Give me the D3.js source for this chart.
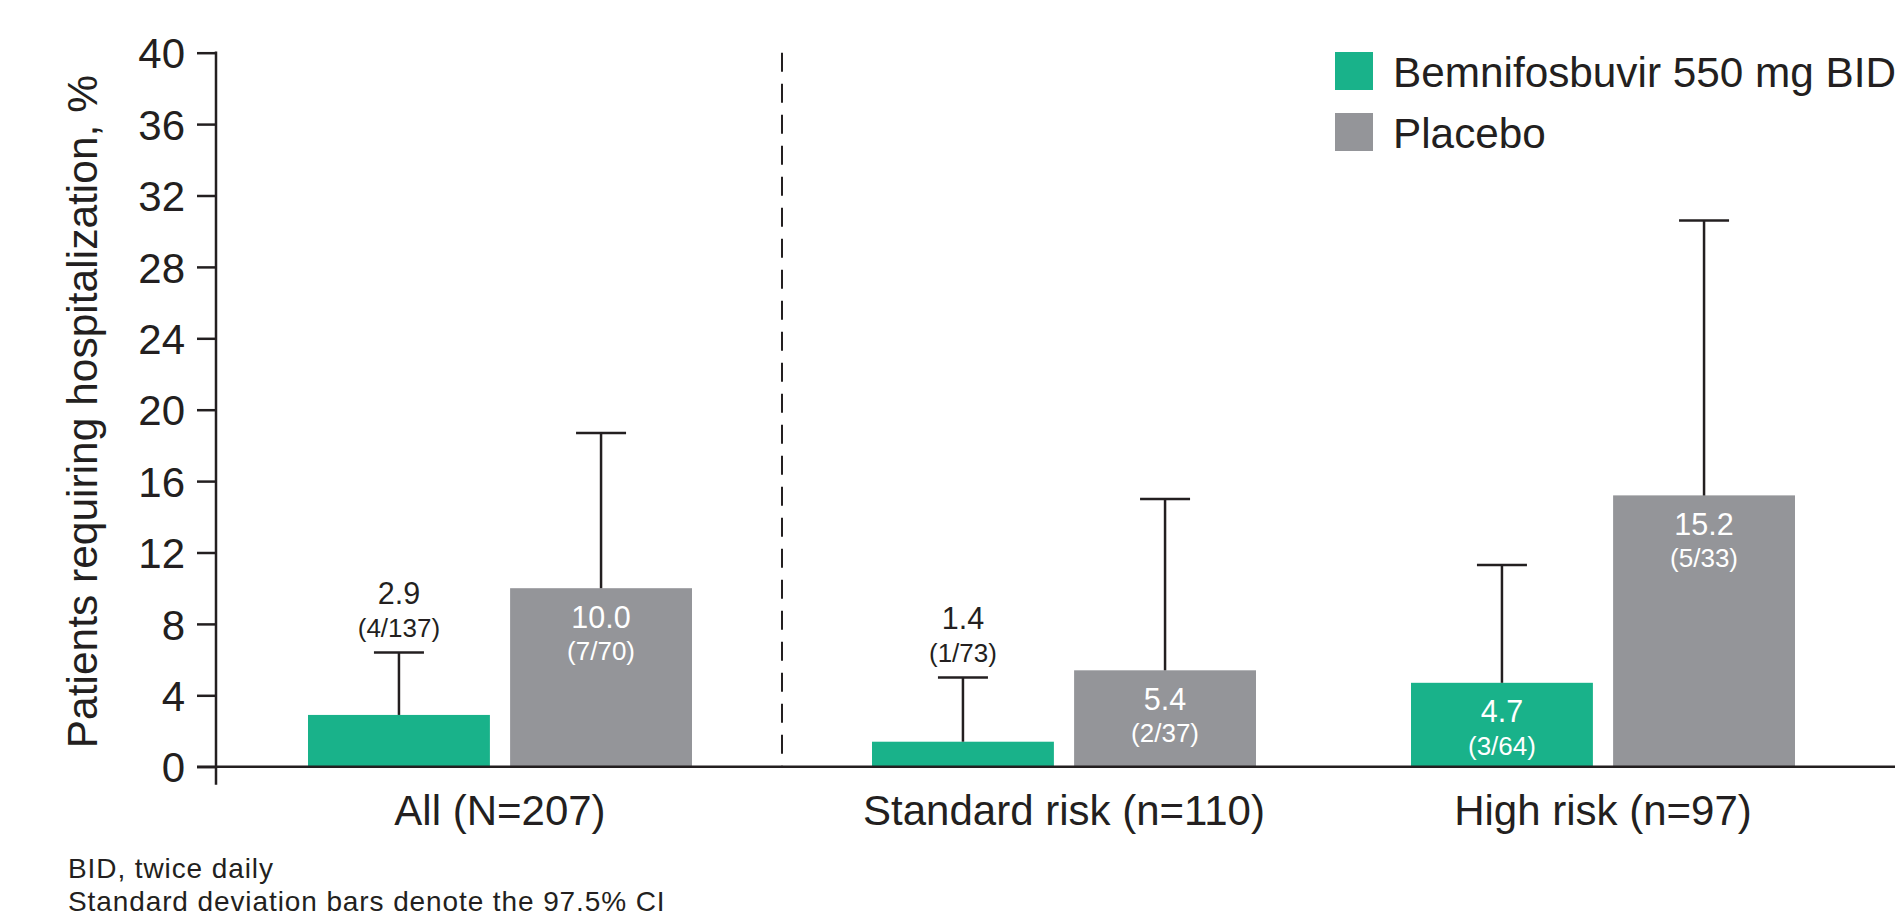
<!DOCTYPE html>
<html>
<head>
<meta charset="utf-8">
<script src="https://cdn.jsdelivr.net/npm/d3@7/dist/d3.min.js"></script>
<style>
  html, body { margin: 0; padding: 0; background: #ffffff; }
  svg { display: block; }
  text { font-family: "Liberation Sans", Arial, Helvetica, sans-serif; }
</style>
</head>
<body>
<script>
// Hospitalization rates by risk group
const categories = ["All (N=207)", "Standard risk (n=110)", "High risk (n=97)"];
const seriesNames = ["Bemnifosbuvir 550 mg BID", "Placebo"];
const bemValues = [2.9, 1.4, 4.7];
const placeboValues = [10.0, 5.4, 15.2];
const bemCounts = ["4/137", "1/73", "3/64"];
const placeboCounts = ["7/70", "2/37", "5/33"];
const bemUpperCI = [6.4, 5.0, 11.3];
const placeboUpperCI = [18.7, 15.0, 30.6];
const yTickValues = [0, 4, 8, 12, 16, 20, 24, 28, 32, 36, 40];
const footnotes = ["BID, twice daily", "Standard deviation bars denote the 97.5% CI"];

const W = 1902, H = 915;
const ink = "#231f20";
const colors = { [seriesNames[0]]: "#19b28a", [seriesNames[1]]: "#949599" };

const plotLeft = 216, plotRight = 1895, plotTop = 52.7, plotBottom = 766.7;
const dividerGap = 25; // extra room opened by the dashed divider after the first group

const svg = d3.select("body").append("svg")
  .attr("width", W).attr("height", H);

// rows of data assembled for drawing
const rows = categories.map((c, i) => ({
  category: c,
  index: i,
  bars: [
    { series: seriesNames[0], value: bemValues[i], count: bemCounts[i], upper: bemUpperCI[i] },
    { series: seriesNames[1], value: placeboValues[i], count: placeboCounts[i], upper: placeboUpperCI[i] }
  ]
}));

const x0 = d3.scaleBand()
  .domain(categories)
  .range([plotLeft, plotRight - dividerGap - 8])
  .paddingInner(0.2876)
  .paddingOuter(0.1707);
const groupX = (c) => x0(c) + (categories.indexOf(c) > 0 ? dividerGap : 0);

const x1 = d3.scaleBand()
  .domain(seriesNames)
  .range([0, x0.bandwidth()])
  .paddingInner(0.1);

const y = d3.scaleLinear().domain([0, 40]).range([plotBottom, plotTop]);

// y axis
const yAxis = d3.axisLeft(y)
  .tickValues(yTickValues)
  .tickFormat(d3.format("d"))
  .tickSize(19)
  .tickPadding(12)
  .tickSizeOuter(0);
const gy = svg.append("g").attr("transform", `translate(${plotLeft},0)`).call(yAxis);
gy.select(".domain").remove();
gy.selectAll(".tick line").attr("stroke", ink).attr("stroke-width", 2.5);
gy.selectAll(".tick text")
  .attr("fill", ink)
  .style("font-size", "42px")
  .attr("dy", "0.36em");
svg.append("line")
  .attr("x1", plotLeft).attr("x2", plotLeft)
  .attr("y1", plotTop - 1.25).attr("y2", plotBottom + 18)
  .attr("stroke", ink).attr("stroke-width", 2.5);

// y axis title
svg.append("text")
  .attr("transform", `translate(97,${(plotTop + plotBottom) / 2 + 2}) rotate(-90)`)
  .attr("text-anchor", "middle")
  .attr("fill", ink)
  .style("font-size", "42.5px")
  .text("Patients requiring hospitalization, %");

// dashed divider between overall and subgroup results
const dividerX = (x0(categories[0]) + x0.bandwidth() + groupX(categories[1])) / 2;
svg.append("line")
  .attr("x1", dividerX).attr("x2", dividerX)
  .attr("y1", plotTop).attr("y2", plotBottom)
  .attr("stroke", ink).attr("stroke-width", 2)
  .attr("stroke-dasharray", "19 12");

// bars
const groups = svg.selectAll("g.group").data(rows).join("g")
  .attr("class", "group")
  .attr("transform", d => `translate(${groupX(d.category)},0)`);

groups.selectAll("rect").data(d => d.bars).join("rect")
  .attr("x", d => x1(d.series))
  .attr("y", d => y(d.value))
  .attr("width", x1.bandwidth())
  .attr("height", d => y(0) - y(d.value))
  .attr("fill", d => colors[d.series]);

// error bars (upper 97.5% CI)
const capHalf = 25;
groups.selectAll("line.err").data(d => d.bars).join("line")
  .attr("class", "err")
  .attr("x1", d => x1(d.series) + x1.bandwidth() / 2)
  .attr("x2", d => x1(d.series) + x1.bandwidth() / 2)
  .attr("y1", d => y(d.value))
  .attr("y2", d => y(d.upper))
  .attr("stroke", ink).attr("stroke-width", 2.5);
groups.selectAll("line.cap").data(d => d.bars).join("line")
  .attr("class", "cap")
  .attr("x1", d => x1(d.series) + x1.bandwidth() / 2 - capHalf)
  .attr("x2", d => x1(d.series) + x1.bandwidth() / 2 + capHalf)
  .attr("y1", d => y(d.upper))
  .attr("y2", d => y(d.upper))
  .attr("stroke", ink).attr("stroke-width", 2.5);

// value labels: inside tall bars in white, above the CI cap otherwise
const insideThreshold = 4;
groups.each(function (row) {
  const g = d3.select(this);
  row.bars.forEach(b => {
    const cx = x1(b.series) + x1.bandwidth() / 2;
    const inside = b.value >= insideThreshold;
    let base1, base2;
    if (inside) {
      base1 = y(b.value) + 39.5;
      base2 = base1 + 32.5;
    } else {
      base2 = y(b.upper) - 15.5;
      base1 = base2 - 32.5;
    }
    const fill = inside ? "#ffffff" : ink;
    g.append("text")
      .attr("x", cx).attr("y", base1)
      .attr("text-anchor", "middle")
      .attr("fill", fill)
      .style("font-size", "30.5px")
      .text(b.value.toFixed(1));
    g.append("text")
      .attr("x", cx).attr("y", base2)
      .attr("text-anchor", "middle")
      .attr("fill", fill)
      .style("font-size", "26px")
      .text(`(${b.count})`);
  });
});

// x axis
svg.append("line")
  .attr("x1", plotLeft - 19).attr("x2", plotRight)
  .attr("y1", y(0)).attr("y2", y(0))
  .attr("stroke", ink).attr("stroke-width", 2.5);
svg.selectAll("text.xlabel").data(categories).join("text")
  .attr("class", "xlabel")
  .attr("x", c => groupX(c) + x0.bandwidth() / 2)
  .attr("y", 825)
  .attr("text-anchor", "middle")
  .attr("fill", ink)
  .style("font-size", "42px")
  .text(c => c);

// legend
const legend = svg.append("g").attr("transform", "translate(1335,52)");
const legendItems = legend.selectAll("g").data(seriesNames).join("g")
  .attr("transform", (d, i) => `translate(0,${i * 61})`);
legendItems.append("rect")
  .attr("width", 38).attr("height", 38)
  .attr("fill", d => colors[d]);
legendItems.append("text")
  .attr("x", 58).attr("y", 34.5)
  .attr("fill", ink)
  .style("font-size", "42.3px")
  .text(d => d);

// footnotes
svg.selectAll("text.foot").data(footnotes).join("text")
  .attr("class", "foot")
  .attr("x", 68)
  .attr("y", (d, i) => 878 + i * 32.5)
  .attr("fill", ink)
  .style("font-size", "28px")
  .style("letter-spacing", "0.9px")
  .text(d => d);
</script>
</body>
</html>
